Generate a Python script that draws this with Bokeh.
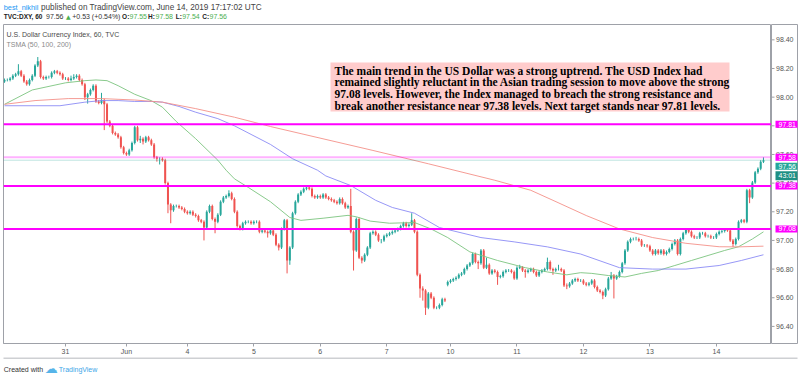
from bokeh.plotting import figure
from bokeh.layouts import column, row
from bokeh.models import ColumnDataSource, FixedTicker, Span, Label, BoxAnnotation
from bokeh.core.properties import value
from bokeh.embed import file_html
from bokeh.resources import INLINE

# ---------------- data (hourly candles) ----------------
opens = [
    98.11, 98.12, 98.12, 98.13, 98.15, 98.16, 98.18, 98.15, 98.11, 98.09,
    98.12, 98.15, 98.22, 98.25, 98.14, 98.13, 98.14, 98.14, 98.17, 98.18,
    98.17, 98.16, 98.13, 98.13, 98.12, 98.13, 98.14, 98.15, 98.12, 98.09,
    98.00, 98.02, 98.05, 98.08, 97.97, 97.96, 97.98, 97.95, 97.83, 97.80,
    97.75, 97.74, 97.72, 97.65, 97.61, 97.60, 97.63, 97.68, 97.79, 97.70,
    97.71, 97.69, 97.72, 97.70, 97.67, 97.58, 97.57, 97.57, 97.56, 97.40,
    97.25, 97.21, 97.24, 97.24, 97.23, 97.22, 97.20, 97.19, 97.20, 97.18,
    97.17, 97.14, 97.13, 97.09, 97.20, 97.24, 97.15, 97.13, 97.18, 97.27,
    97.30, 97.31, 97.33, 97.29, 97.20, 97.10, 97.08, 97.12, 97.13, 97.13,
    97.12, 97.13, 97.13, 97.06, 97.07, 97.06, 97.05, 97.07, 97.04, 96.97,
    96.95, 97.08, 97.14, 96.86, 96.95, 97.19, 97.27, 97.32, 97.34, 97.36,
    97.37, 97.36, 97.31, 97.30, 97.31, 97.30, 97.32, 97.30, 97.29, 97.28,
    97.27, 97.26, 97.29, 97.26, 97.23, 97.24, 97.06, 96.93, 97.15, 96.88,
    96.86, 96.90, 96.95, 97.05, 97.06, 97.04, 97.00, 97.00, 97.03, 97.04,
    97.05, 97.06, 97.07, 97.08, 97.10, 97.12, 97.10, 97.11, 97.14, 97.06,
    96.76, 96.665, 96.65, 96.53, 96.63, 96.60, 96.53, 96.53, 96.55, 96.59,
    96.69, 96.71, 96.72, 96.73, 96.74, 96.76, 96.77, 96.80, 96.825, 96.84,
    96.905, 96.85, 96.84, 96.93, 96.81, 96.83, 96.77, 96.79, 96.78, 96.745,
    96.75, 96.78, 96.79, 96.79, 96.78, 96.735, 96.81, 96.815, 96.79, 96.78,
    96.79, 96.80, 96.78, 96.755, 96.78, 96.79, 96.80, 96.85, 96.80, 96.79,
    96.80, 96.80, 96.79, 96.685, 96.68, 96.70, 96.72, 96.73, 96.72, 96.72,
    96.70, 96.69, 96.70, 96.72, 96.675, 96.65, 96.64, 96.615, 96.66, 96.735,
    96.755, 96.735, 96.75, 96.78, 96.84, 96.93, 96.99, 97.01, 97.01, 97.01,
    97.00, 96.965, 96.965, 96.96, 96.93, 96.905, 96.93, 96.91, 96.93, 96.905,
    96.92, 96.94, 96.975, 97.00, 96.905, 97.01, 97.05, 97.075, 97.06, 97.03,
    97.02, 97.02, 97.05, 97.05, 97.03, 97.03, 97.02, 97.02, 97.045, 97.06,
    97.065, 97.075, 97.07, 97.00, 96.975, 97.01, 97.13, 97.14, 97.13, 97.35,
    97.30, 97.405, 97.475, 97.50, 97.55,
]
highs = [
    98.13, 98.13, 98.14, 98.16, 98.17, 98.23, 98.19, 98.16, 98.12, 98.13,
    98.16, 98.23, 98.28, 98.26, 98.15, 98.15, 98.15, 98.18, 98.19, 98.19,
    98.18, 98.17, 98.14, 98.14, 98.15, 98.16, 98.16, 98.16, 98.13, 98.10,
    98.03, 98.06, 98.09, 98.09, 97.98, 98.03, 97.99, 97.96, 97.84, 97.81,
    97.76, 97.75, 97.73, 97.66, 97.62, 97.64, 97.69, 97.80, 97.80, 97.73,
    97.72, 97.73, 97.73, 97.71, 97.68, 97.59, 97.58, 97.58, 97.57, 97.41,
    97.26, 97.25, 97.25, 97.25, 97.24, 97.23, 97.21, 97.21, 97.21, 97.19,
    97.18, 97.15, 97.14, 97.21, 97.25, 97.25, 97.16, 97.19, 97.28, 97.31,
    97.32, 97.35, 97.34, 97.30, 97.21, 97.11, 97.13, 97.14, 97.14, 97.14,
    97.14, 97.14, 97.14, 97.08, 97.08, 97.07, 97.08, 97.08, 97.05, 96.98,
    97.09, 97.15, 97.15, 96.96, 97.20, 97.28, 97.33, 97.35, 97.37, 97.38,
    97.38, 97.37, 97.32, 97.32, 97.32, 97.33, 97.33, 97.31, 97.30, 97.29,
    97.28, 97.30, 97.30, 97.27, 97.25, 97.36, 97.07, 97.16, 97.16, 96.89,
    96.91, 96.96, 97.06, 97.07, 97.07, 97.05, 97.01, 97.04, 97.05, 97.06,
    97.07, 97.08, 97.09, 97.11, 97.13, 97.13, 97.12, 97.19, 97.15, 97.07,
    96.77, 96.68, 96.66, 96.64, 96.64, 96.61, 96.54, 96.56, 96.60, 96.60,
    96.72, 96.73, 96.74, 96.75, 96.77, 96.78, 96.81, 96.835, 96.85, 96.915,
    96.915, 96.86, 96.94, 96.94, 96.88, 96.84, 96.80, 96.80, 96.79, 96.76,
    96.79, 96.80, 96.80, 96.80, 96.79, 96.82, 96.83, 96.82, 96.80, 96.80,
    96.81, 96.81, 96.79, 96.79, 96.80, 96.81, 96.88, 96.86, 96.81, 96.81,
    96.83, 96.81, 96.80, 96.70, 96.71, 96.73, 96.74, 96.74, 96.73, 96.73,
    96.71, 96.71, 96.73, 96.73, 96.685, 96.66, 96.65, 96.67, 96.745, 96.78,
    96.765, 96.76, 96.79, 96.85, 96.94, 97.00, 97.02, 97.02, 97.025, 97.02,
    97.01, 96.975, 96.975, 96.97, 96.94, 96.94, 96.94, 96.94, 96.94, 96.93,
    96.95, 96.985, 97.01, 97.01, 97.02, 97.06, 97.085, 97.085, 97.07, 97.04,
    97.03, 97.06, 97.06, 97.06, 97.04, 97.04, 97.03, 97.055, 97.07, 97.075,
    97.085, 97.085, 97.08, 97.01, 97.02, 97.14, 97.15, 97.15, 97.36, 97.36,
    97.415, 97.485, 97.51, 97.56, 97.58,
]
lows = [
    98.10, 98.11, 98.11, 98.12, 98.14, 98.15, 98.14, 98.10, 98.08, 98.08,
    98.11, 98.14, 98.21, 98.13, 98.12, 98.12, 98.13, 98.13, 98.16, 98.16,
    98.15, 98.12, 98.12, 98.11, 98.11, 98.12, 98.13, 98.11, 98.08, 97.98,
    97.955, 98.01, 98.04, 97.96, 97.95, 97.95, 97.77, 97.82, 97.79, 97.74,
    97.73, 97.71, 97.64, 97.60, 97.59, 97.59, 97.62, 97.67, 97.69, 97.68,
    97.67, 97.68, 97.69, 97.66, 97.57, 97.55, 97.53, 97.55, 97.39, 97.19,
    97.12, 97.20, 97.23, 97.22, 97.21, 97.19, 97.18, 97.18, 97.17, 97.16,
    97.13, 97.12, 97.00, 97.08, 97.19, 97.14, 97.05, 97.12, 97.17, 97.26,
    97.29, 97.30, 97.28, 97.19, 97.09, 97.07, 97.07, 97.11, 97.12, 97.11,
    97.11, 97.12, 97.05, 97.05, 97.05, 97.02, 97.04, 97.03, 96.96, 96.93,
    96.94, 97.07, 96.77, 96.83, 96.94, 97.18, 97.26, 97.31, 97.33, 97.35,
    97.35, 97.30, 97.29, 97.29, 97.29, 97.29, 97.29, 97.28, 97.27, 97.26,
    97.25, 97.25, 97.25, 97.22, 97.22, 97.05, 96.79, 96.92, 96.87, 96.84,
    96.85, 96.89, 96.94, 97.04, 97.03, 96.99, 96.98, 96.99, 97.02, 97.03,
    97.04, 97.05, 97.06, 97.07, 97.09, 97.09, 97.09, 97.10, 97.05, 96.75,
    96.60, 96.58, 96.48, 96.52, 96.59, 96.52, 96.52, 96.52, 96.54, 96.57,
    96.68, 96.70, 96.71, 96.72, 96.73, 96.75, 96.76, 96.79, 96.815, 96.83,
    96.84, 96.80, 96.83, 96.80, 96.80, 96.76, 96.76, 96.77, 96.69, 96.735,
    96.74, 96.77, 96.78, 96.77, 96.725, 96.725, 96.80, 96.78, 96.74, 96.77,
    96.78, 96.77, 96.745, 96.745, 96.77, 96.78, 96.79, 96.79, 96.76, 96.78,
    96.79, 96.78, 96.675, 96.66, 96.67, 96.69, 96.71, 96.71, 96.71, 96.69,
    96.68, 96.68, 96.69, 96.665, 96.64, 96.63, 96.59, 96.605, 96.65, 96.725,
    96.595, 96.725, 96.74, 96.77, 96.83, 96.92, 96.98, 97.00, 97.00, 96.99,
    96.955, 96.955, 96.95, 96.92, 96.895, 96.895, 96.90, 96.90, 96.895, 96.895,
    96.91, 96.93, 96.965, 96.895, 96.895, 97.00, 97.04, 97.05, 97.02, 97.01,
    97.01, 97.01, 97.04, 97.02, 97.02, 97.01, 97.01, 97.01, 97.035, 97.05,
    97.055, 97.06, 96.99, 96.955, 96.965, 97.00, 97.12, 97.12, 97.12, 97.26,
    97.29, 97.395, 97.465, 97.49, 97.54,
]
closes = [
    98.12, 98.12, 98.13, 98.15, 98.16, 98.18, 98.15, 98.11, 98.09, 98.12,
    98.15, 98.22, 98.25, 98.14, 98.13, 98.14, 98.14, 98.17, 98.18, 98.17,
    98.16, 98.13, 98.13, 98.12, 98.13, 98.14, 98.15, 98.12, 98.09, 98.00,
    98.02, 98.05, 98.08, 97.97, 97.96, 97.98, 97.95, 97.83, 97.80, 97.75,
    97.74, 97.72, 97.65, 97.61, 97.60, 97.63, 97.68, 97.79, 97.70, 97.71,
    97.69, 97.72, 97.70, 97.67, 97.58, 97.57, 97.57, 97.56, 97.40, 97.25,
    97.21, 97.24, 97.24, 97.23, 97.22, 97.20, 97.19, 97.20, 97.18, 97.17,
    97.14, 97.13, 97.09, 97.20, 97.24, 97.15, 97.13, 97.18, 97.27, 97.30,
    97.31, 97.33, 97.29, 97.20, 97.10, 97.08, 97.12, 97.13, 97.13, 97.12,
    97.13, 97.13, 97.06, 97.07, 97.06, 97.05, 97.07, 97.04, 96.97, 96.95,
    97.08, 97.14, 96.86, 96.95, 97.19, 97.27, 97.32, 97.34, 97.36, 97.37,
    97.36, 97.31, 97.30, 97.31, 97.30, 97.32, 97.30, 97.29, 97.28, 97.27,
    97.26, 97.29, 97.26, 97.23, 97.24, 97.06, 96.93, 97.15, 96.88, 96.86,
    96.90, 96.95, 97.05, 97.06, 97.04, 97.00, 97.00, 97.03, 97.04, 97.05,
    97.06, 97.07, 97.08, 97.10, 97.12, 97.10, 97.11, 97.14, 97.06, 96.76,
    96.665, 96.65, 96.53, 96.63, 96.60, 96.53, 96.53, 96.55, 96.59, 96.58,
    96.71, 96.72, 96.73, 96.74, 96.76, 96.77, 96.80, 96.825, 96.84, 96.905,
    96.85, 96.84, 96.93, 96.81, 96.83, 96.77, 96.79, 96.78, 96.745, 96.75,
    96.78, 96.79, 96.79, 96.78, 96.735, 96.81, 96.815, 96.79, 96.78, 96.79,
    96.80, 96.78, 96.755, 96.78, 96.79, 96.80, 96.85, 96.80, 96.79, 96.80,
    96.80, 96.79, 96.685, 96.68, 96.70, 96.72, 96.73, 96.72, 96.72, 96.70,
    96.69, 96.70, 96.72, 96.675, 96.65, 96.64, 96.615, 96.66, 96.735, 96.755,
    96.735, 96.75, 96.78, 96.84, 96.93, 96.99, 97.01, 97.01, 97.01, 97.00,
    96.965, 96.965, 96.96, 96.93, 96.905, 96.93, 96.91, 96.93, 96.905, 96.92,
    96.94, 96.975, 97.00, 96.905, 97.01, 97.05, 97.075, 97.06, 97.03, 97.02,
    97.02, 97.05, 97.05, 97.03, 97.03, 97.02, 97.02, 97.045, 97.06, 97.065,
    97.075, 97.07, 97.00, 96.975, 97.01, 97.13, 97.14, 97.13, 97.35, 97.30,
    97.405, 97.475, 97.50, 97.55, 97.56,
]

# day boundaries on the bar axis and their labels
day_tick_index = [22, 44, 66, 90, 114, 138, 161, 185, 209, 233, 257]
day_tick_labels = ["31", "Jun", "4", "5", "6", "7", "10", "11", "12", "13", "14"]
price_ticks = [96.4, 96.6, 96.8, 97.0, 97.2, 97.4, 97.6, 97.8, 98.0, 98.2, 98.4]
price_tick_labels = ["96.40", "96.60", "96.80", "97.00", "97.20", "97.40",
                     "97.60", "97.80", "98.00", "98.20", "98.40"]

# moving averages (read at sample bars)
sma50_x = [0, 10, 22, 29, 33, 37, 41, 47, 53, 57, 62, 69, 77, 80, 83, 88, 96, 103, 107, 115,
           124, 127, 132, 139, 148, 154, 160, 168, 178, 188, 196, 203, 208, 212, 218, 224, 230,
           236, 242, 248, 254, 260, 265, 270, 274]
sma50_y = [97.95, 98.05, 98.10, 98.115, 98.12, 98.115, 98.08, 98.02, 97.975, 97.93, 97.83, 97.71,
           97.56, 97.49, 97.43, 97.37, 97.27, 97.16, 97.14, 97.155, 97.175, 97.165, 97.135, 97.12,
           97.125, 97.08, 97.02, 96.92, 96.86, 96.81, 96.78, 96.76, 96.775, 96.77, 96.755, 96.745,
           96.77, 96.79, 96.825, 96.86, 96.895, 96.93, 96.956, 97.01, 97.06]
sma100_x = [0, 11, 20, 29, 35, 41, 47, 53, 57, 63, 69, 77, 83, 89, 96, 104, 113, 116, 125, 134,
            140, 148, 157, 172, 184, 196, 208, 222, 234, 246, 258, 266, 274]
sma100_y = [97.94, 97.94, 97.94, 97.965, 97.976, 97.976, 97.97, 97.97, 97.965, 97.935, 97.895,
            97.85, 97.80, 97.74, 97.67, 97.57, 97.49, 97.45, 97.383, 97.28, 97.23, 97.19, 97.09,
            97.02, 96.99, 96.955, 96.905, 96.81, 96.80, 96.80, 96.825, 96.86, 96.90]
sma200_x = [0, 11, 23, 35, 47, 57, 69, 83, 96, 133, 153, 177, 190, 198, 210, 222, 234, 246, 258, 265, 274]
sma200_y = [97.95, 97.976, 97.99, 97.99, 97.98, 97.965, 97.92, 97.86, 97.795, 97.628, 97.535,
            97.42, 97.35, 97.28, 97.174, 97.08, 97.02, 96.98, 96.956, 96.955, 96.96]

levels = [97.81, 97.38, 97.08]
level_labels = ["97.81", "97.38", "97.08"]
high_level = 97.58
high_label = "97.58"
last_price = 97.56
last_label = "97.56"
countdown = "43:01"

note_lines = [
    "The main trend in the US Dollar was a strong uptrend. The USD Index had",
    "remained slightly reluctant in the Asian trading session to move above the strong",
    "97.08 levels. However, the Index managed to breach the strong resistance and",
    "break another resistance near 97.38 levels. Next target stands near 97.81 levels.",
]

# ---------------- styling constants ----------------
UP = "#26a69a"
DOWN = "#ef5350"
MAG = "#ff00ff"
AXIS_C = "#9ea1a8"
SANS = "Liberation Sans"
GREEN = "#4caf50"
BLUE = "#2196f3"
Y_TOP = 98.507
Y_BOTTOM = 96.2807


def canvas_text(fig, x, y, txt, color="#333333", size="7px", style="normal", font=SANS):
    fig.add_layout(Label(x=x, y=y, x_units="canvas", y_units="canvas", text=txt, text_color=color,
                         text_font=font, text_font_size=size, text_font_style=style,
                         text_baseline="middle", text_align="left"))


# ---------------- header ----------------
header = figure(width=800, height=24, x_range=(0, 800), y_range=(0, 24), output_backend="svg",
                toolbar_location=None, x_axis_location=None, y_axis_location=None,
                min_border=0, min_border_left=0, min_border_right=0, min_border_top=0, min_border_bottom=0)
header.outline_line_color = None
header.grid.visible = False

canvas_text(header, 3.3, 6.5, "best_nikhil", color=BLUE, size="7.3px")
canvas_text(header, 40.5, 6.5, "published on TradingView.com, June 14, 2019 17:17:02 UTC",
            color="#444444", size="8.2px")
canvas_text(header, 3.3, 15.5, "TVC:DXY, 60", color="#222222", style="bold", size="6.5px")
canvas_text(header, 45.5, 15.5, "97.56", color="#333333")
canvas_text(header, 65.5, 15.5, "\u25b2", color=GREEN, size="6px", font="DejaVu Sans")
canvas_text(header, 71.7, 15.5, "+0.53 (+0.54%)", color="#333333")
for lx, lab, vx, val in [(121.6, "O:", 129, "97.55"), (147.6, "H:", 155, "97.58"),
                         (175.2, "L:", 181.7, "97.54"), (201.8, "C:", 209, "97.56")]:
    canvas_text(header, lx, 15.5, lab, color="#222222", style="bold", size="6.5px")
    canvas_text(header, vx, 15.5, val, color=GREEN)

# ---------------- main price panel ----------------
n = len(closes)
bar_index = list(range(n))
colors = [UP if c >= o else DOWN for o, c in zip(opens, closes)]
tops = [max(o, c) for o, c in zip(opens, closes)]
bottoms = [min(o, c) for o, c in zip(opens, closes)]
src = ColumnDataSource(dict(x=bar_index, h=highs, l=lows, top=tops, bottom=bottoms, color=colors))

p = figure(width=771, height=333, x_range=(-0.38, 276.9), y_range=(Y_BOTTOM, Y_TOP),
           output_backend="svg", toolbar_location=None, y_axis_location=None,
           min_border_left=3, min_border_right=0, min_border_top=0, min_border_bottom=14)
p.grid.visible = False
p.outline_line_color = AXIS_C
p.background_fill_color = "white"
p.border_fill_color = "white"

xa = p.xaxis[0]
xa.ticker = FixedTicker(ticks=day_tick_index)
xa.major_label_overrides = {t: lab for t, lab in zip(day_tick_index, day_tick_labels)}
xa.axis_line_color = AXIS_C
xa.major_tick_line_color = AXIS_C
xa.major_tick_out = 3
xa.major_tick_in = 0
xa.minor_tick_line_color = None
xa.major_label_standoff = 1
xa.major_label_text_font = SANS
xa.major_label_text_font_size = "7px"
xa.major_label_text_color = "#555555"

# candles
p.segment("x", "h", "x", "l", source=src, line_color="color", line_width=1)
p.vbar(x="x", width=0.72, top="top", bottom="bottom", source=src, fill_color="color", line_color=None)

# moving averages
p.line(sma50_x, sma50_y, line_color="#7cc47f", line_width=1, line_alpha=0.9)
p.line(sma100_x, sma100_y, line_color="#8c8cf5", line_width=1, line_alpha=0.9)
p.line(sma200_x, sma200_y, line_color="#f4918a", line_width=1, line_alpha=0.9)

# horizontal levels
for lv in levels:
    p.add_layout(Span(location=lv, dimension="width", line_color=MAG, line_width=2))
p.add_layout(Span(location=high_level, dimension="width", line_color=MAG, line_alpha=0.3, line_width=2))
p.add_layout(Span(location=last_price, dimension="width", line_color=UP, line_alpha=0.6,
                  line_width=1, line_dash="1 1"))

# legend text inside the pane
canvas_text(p, 6, 9.5, "U.S. Dollar Currency Index, 60, TVC", color="#4a4a4a")
canvas_text(p, 6, 19.5, "TSMA (50, 100, 200)", color="#8a8a8a")

# note box
p.add_layout(BoxAnnotation(left=330, right=729, top=38, bottom=87,
                           left_units="canvas", right_units="canvas", top_units="canvas", bottom_units="canvas",
                           fill_color="#ffcccc", fill_alpha=1, line_color=None))
for k, line in enumerate(note_lines):
    p.add_layout(Label(x=334, y=46 + k * 11.7, x_units="canvas", y_units="canvas", text=line,
                       text_font="Liberation Serif", text_font_style="bold", text_font_size="11.5px",
                       text_color="black", text_baseline="middle", text_align="left"))

# ---------------- price scale strip (shares the price range) ----------------
scale = figure(width=29, height=333, x_range=(0, 26), y_range=p.y_range,
               output_backend="svg", toolbar_location=None, x_axis_location=None, y_axis_location=None,
               min_border_left=0, min_border_right=3, min_border_top=0, min_border_bottom=14)
scale.grid.visible = False
scale.outline_line_color = AXIS_C
scale.segment(x0=0, y0=price_ticks, x1=3, y1=price_ticks, line_color=AXIS_C, line_width=1)
scale.text(x=4.5, y=price_ticks, text=price_tick_labels, text_font=value(SANS),
           text_font_size=value("7px"), text_color="#555555", text_baseline="middle", text_align="left")

pad = dict(left=3, right=4, top=1, bottom=1)
for lv, lab in zip(levels + [high_level], level_labels + [high_label]):
    scale.add_layout(Label(x=4, y=lv, x_units="data", y_units="data", text=lab,
                           text_color="white", text_font=SANS, text_font_size="7px",
                           text_baseline="middle", text_align="left",
                           background_fill_color=MAG, padding=pad))
scale.add_layout(Label(x=4, y=last_price, x_units="data", y_units="data", y_offset=-6, text=last_label,
                       text_color="white", text_font=SANS, text_font_size="7px",
                       text_baseline="middle", text_align="left", background_fill_color=UP, padding=pad))
scale.add_layout(Label(x=4, y=last_price, x_units="data", y_units="data", y_offset=-15.5, text=countdown,
                       text_color="white", text_font=SANS, text_font_size="7px",
                       text_baseline="middle", text_align="left", background_fill_color="#1f8f84", padding=pad))

# ---------------- footer ----------------
footer = figure(width=800, height=21, x_range=(0, 800), y_range=(0, 21), output_backend="svg",
                toolbar_location=None, x_axis_location=None, y_axis_location=None,
                min_border=0, min_border_left=0, min_border_right=0, min_border_top=0, min_border_bottom=0)
footer.outline_line_color = None
footer.grid.visible = False
footer.add_layout(BoxAnnotation(left=3, right=797, top=0, bottom=1,
                                left_units="canvas", right_units="canvas", top_units="canvas", bottom_units="canvas",
                                fill_color=AXIS_C, fill_alpha=1, line_color=None))
canvas_text(footer, 3.3, 11.5, "Created with", color="#333333")
canvas_text(footer, 44.3, 10.5, "\u2601", color="#56b4e9", size="13px", font="DejaVu Sans")
canvas_text(footer, 58.3, 11.5, "TradingView", color="#3ea6e8")

layout = column(header, row(p, scale, spacing=0), footer, spacing=0)
open("out.html", "w").write(file_html(layout, INLINE))
